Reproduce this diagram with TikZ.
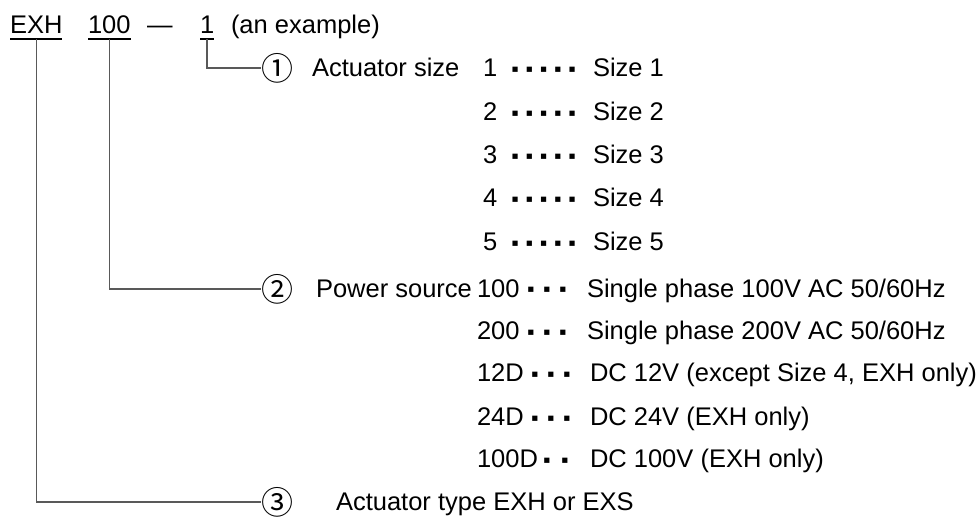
\documentclass[tikz,border=0pt]{standalone}
\usepackage{fontspec}
\setmainfont{Liberation Sans}
\newfontfamily\cjk{Noto Sans CJK JP}
\newfontfamily\dvs{DejaVu Sans}
\newcommand\dt[1]{\makebox[#1][c]{▪}}
\tikzset{
  txt/.style={anchor=base west, inner sep=0pt, outer sep=0pt, font=\fontsize{25.5}{30}\selectfont},
  circnum/.style={anchor=west, inner sep=0pt, outer sep=0pt, font=\cjk\fontsize{32}{34}\selectfont},
  dotrow/.style={anchor=west, inner sep=0pt, outer sep=0pt, font=\dvs\fontsize{10.5}{12}\selectfont},
  conn/.style={draw=black!65, line width=1.2pt},
  uline/.style={draw=black, line width=2.2pt},
}
\begin{document}
\begin{tikzpicture}[x=1pt,y=-1pt]
\useasboundingbox (0,0) rectangle (980,517);
% header
\node[txt] (exh) at (10,33) {EXH};
\node[txt] (pw) at (88,33) {100};
\node[txt] (dash) at (147,33) {—};
\node[txt] (sz) at (200,33) {1};
\node[txt] (ex) at (231,33) {(an example)};
\foreach \n in {exh,pw,sz}{
  \draw[uline] ([yshift=-6pt]\n.base west) -- ([yshift=-6pt]\n.base east);
}
% circled numbers
\node[circnum] (c1) at (261,68) {①};
\node[circnum] (c2) at (261,289) {②};
\node[circnum] (c3) at (261,502) {③};
% connectors
\draw[conn] ([yshift=-6pt]sz.base) |- (c1.west);
\draw[conn] ([yshift=-6pt]pw.base) |- (c2.west);
\draw[conn] ([yshift=-6pt]exh.base) |- (c3.west);
% actuator size
\node[txt] (as) at (312,76.5) {Actuator size};
\foreach \y/\k in {68/1,112/2,155/3,198/4,242/5}{
  \node[txt] (s\k) at (483,\y+8.5) {\k};
  \node[dotrow] (d\k) at (508,\y+2) {\dt{14.25pt}\dt{14.25pt}\dt{14.25pt}\dt{14.25pt}\dt{14.25pt}};
  \node[txt] (t\k) at (593,\y+8.5) {Size \k};
}
% power source
\node[txt] (ps) at (316,297) {Power source};
\node[txt] (p1) at (477,297) {100};
\node[dotrow] (pd1) at (523,290) {\dt{16pt}\dt{16pt}\dt{16pt}};
\node[txt] (pt1) at (587,297) {Single phase 100V AC 50/60Hz};
\node[txt] (p2) at (477,339.5) {200};
\node[dotrow] (pd2) at (523,332.5) {\dt{16pt}\dt{16pt}\dt{16pt}};
\node[txt] (pt2) at (587,339.5) {Single phase 200V AC 50/60Hz};
\node[txt] (p3) at (477,381.5) {12D};
\node[dotrow] (pd3) at (527,374.5) {\dt{16pt}\dt{16pt}\dt{16pt}};
\node[txt] (pt3) at (590,381.5) {DC 12V (except Size 4, EXH only)};
\node[txt] (p4) at (477,425.5) {24D};
\node[dotrow] (pd4) at (527,418.5) {\dt{16pt}\dt{16pt}\dt{16pt}};
\node[txt] (pt4) at (590,425.5) {DC 24V (EXH only)};
\node[txt] (p5) at (477,467.5) {100D};
\node[dotrow] (pd5) at (538,460.5) {\dt{18pt}\dt{18pt}};
\node[txt] (pt5) at (590,467.5) {DC 100V (EXH only)};
% actuator type
\node[txt] (at) at (336,510.5) {Actuator type EXH or EXS};
\end{tikzpicture}
\end{document}
